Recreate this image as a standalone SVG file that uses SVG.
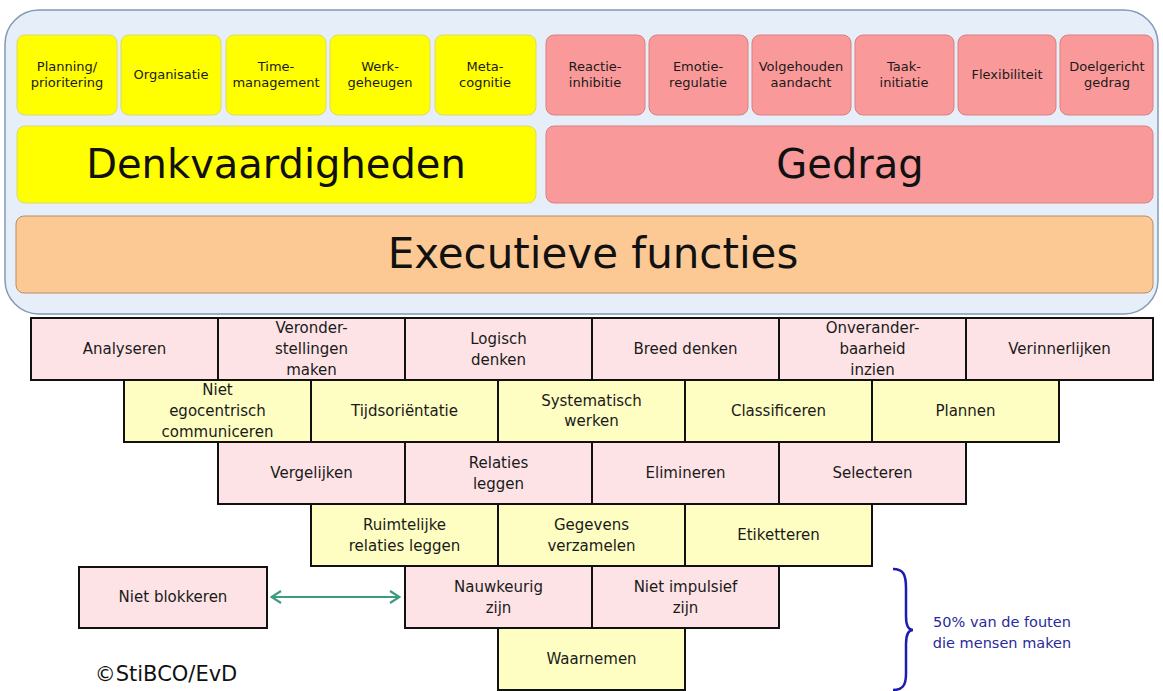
<svg xmlns="http://www.w3.org/2000/svg" width="1163" height="691" viewBox="0 0 1163 691">
<defs>
<style>
text{font-family:"DejaVu Sans","Liberation Sans",sans-serif;text-anchor:middle;dominant-baseline:central;fill:#1a1a1a}
.sy{fill:#ffff00;stroke:#dcd870;stroke-width:1}
.sp{fill:#fa9999;stroke:#d98080;stroke-width:1}
.st{font-size:13px}
.big{font-size:40px;fill:#111}
.pk{fill:#fde3e5;stroke:#111;stroke-width:2}
.yl{fill:#fefec2;stroke:#111;stroke-width:2}
.pt{font-size:15px}
</style>
<marker id="ah" viewBox="0 0 12 14" refX="11" refY="7" markerWidth="12" markerHeight="14" markerUnits="userSpaceOnUse" orient="auto-start-reverse">
<path d="M1,1 L10.5,7 L1,13" fill="none" stroke="#3f9b7f" stroke-width="2.2"/>
</marker>
</defs>
<rect width="1163" height="691" fill="#ffffff"/>
<g id="container">
<rect x="5" y="10" width="1153" height="304" rx="34" fill="#e6eef9" stroke="#8499b3" stroke-width="1.5"/>
</g>
<g id="top-yellow">
<g id="planning"><rect class="sy" x="17" y="35" width="100" height="80" rx="8"/><text class="st" x="67" y="66">Planning/</text><text class="st" x="67" y="82">prioritering</text></g>
<g id="organisatie"><rect class="sy" x="121" y="35" width="100" height="80" rx="8"/><text class="st" x="171" y="74">Organisatie</text></g>
<g id="time"><rect class="sy" x="226" y="35" width="100" height="80" rx="8"/><text class="st" x="276" y="66">Time-</text><text class="st" x="276" y="82">management</text></g>
<g id="werk"><rect class="sy" x="330" y="35" width="100" height="80" rx="8"/><text class="st" x="380" y="66">Werk-</text><text class="st" x="380" y="82">geheugen</text></g>
<g id="meta"><rect class="sy" x="435" y="35" width="101" height="80" rx="8"/><text class="st" x="485" y="66">Meta-</text><text class="st" x="485" y="82">cognitie</text></g>
</g>
<g id="top-pink">
<g id="reactie"><rect class="sp" x="546" y="35" width="99" height="80" rx="8"/><text class="st" x="595" y="66">Reactie-</text><text class="st" x="595" y="82">inhibitie</text></g>
<g id="emotie"><rect class="sp" x="649" y="35" width="99" height="80" rx="8"/><text class="st" x="698" y="66">Emotie-</text><text class="st" x="698" y="82">regulatie</text></g>
<g id="volgehouden"><rect class="sp" x="752" y="35" width="99" height="80" rx="8"/><text class="st" x="801" y="66">Volgehouden</text><text class="st" x="801" y="82">aandacht</text></g>
<g id="taak"><rect class="sp" x="855" y="35" width="99" height="80" rx="8"/><text class="st" x="904" y="66">Taak-</text><text class="st" x="904" y="82">initiatie</text></g>
<g id="flex"><rect class="sp" x="958" y="35" width="98" height="80" rx="8"/><text class="st" x="1007" y="74">Flexibiliteit</text></g>
<g id="doel"><rect class="sp" x="1060" y="35" width="93" height="80" rx="8"/><text class="st" x="1107" y="66">Doelgericht</text><text class="st" x="1107" y="82">gedrag</text></g>
</g>
<g id="denk"><rect class="sy" x="17" y="126" width="519" height="77" rx="8"/><text class="big" x="276" y="164">Denkvaardigheden</text></g>
<g id="gedrag"><rect class="sp" x="546" y="126" width="607" height="77" rx="8"/><text class="big" x="850" y="164">Gedrag</text></g>
<g id="exec"><rect x="16" y="216" width="1137" height="77" rx="8" fill="#fcc994" stroke="#b98c66" stroke-width="1"/><text class="big" x="593" y="253" style="font-size:42px">Executieve functies</text></g>

<g id="row1">
<g id="analyseren"><rect class="pk" x="31" y="318" width="187" height="62"/><text class="pt" x="124.5" y="349">Analyseren</text></g>
<g id="veronder"><rect class="pk" x="218" y="318" width="187" height="62"/><text class="pt" x="311.5" y="328">Veronder-</text><text class="pt" x="311.5" y="349">stellingen</text><text class="pt" x="311.5" y="370">maken</text></g>
<g id="logisch"><rect class="pk" x="405" y="318" width="187" height="62"/><text class="pt" x="498.5" y="339">Logisch</text><text class="pt" x="498.5" y="360">denken</text></g>
<g id="breed"><rect class="pk" x="592" y="318" width="187" height="62"/><text class="pt" x="685.5" y="349">Breed denken</text></g>
<g id="onverander"><rect class="pk" x="779" y="318" width="187" height="62"/><text class="pt" x="872.5" y="328">Onverander-</text><text class="pt" x="872.5" y="349">baarheid</text><text class="pt" x="872.5" y="370">inzien</text></g>
<g id="verinnerlijken"><rect class="pk" x="966" y="318" width="187" height="62"/><text class="pt" x="1059.5" y="349">Verinnerlijken</text></g>
</g>
<g id="row2">
<g id="egocentrisch"><rect class="yl" x="124" y="380" width="187" height="62"/><text class="pt" x="217.5" y="390">Niet</text><text class="pt" x="217.5" y="411">egocentrisch</text><text class="pt" x="217.5" y="432">communiceren</text></g>
<g id="tijd"><rect class="yl" x="311" y="380" width="187" height="62"/><text class="pt" x="404.5" y="411">Tijdsoriëntatie</text></g>
<g id="systematisch"><rect class="yl" x="498" y="380" width="187" height="62"/><text class="pt" x="591.5" y="401">Systematisch</text><text class="pt" x="591.5" y="421">werken</text></g>
<g id="classificeren"><rect class="yl" x="685" y="380" width="187" height="62"/><text class="pt" x="778.5" y="411">Classificeren</text></g>
<g id="plannen"><rect class="yl" x="872" y="380" width="187" height="62"/><text class="pt" x="965.5" y="411">Plannen</text></g>
</g>
<g id="row3">
<g id="vergelijken"><rect class="pk" x="218" y="442" width="187" height="62"/><text class="pt" x="311.5" y="473">Vergelijken</text></g>
<g id="relaties"><rect class="pk" x="405" y="442" width="187" height="62"/><text class="pt" x="498.5" y="463">Relaties</text><text class="pt" x="498.5" y="484">leggen</text></g>
<g id="elimineren"><rect class="pk" x="592" y="442" width="187" height="62"/><text class="pt" x="685.5" y="473">Elimineren</text></g>
<g id="selecteren"><rect class="pk" x="779" y="442" width="187" height="62"/><text class="pt" x="872.5" y="473">Selecteren</text></g>
</g>
<g id="row4">
<g id="ruimtelijke"><rect class="yl" x="311" y="504" width="187" height="62"/><text class="pt" x="404.5" y="525">Ruimtelijke</text><text class="pt" x="404.5" y="546">relaties leggen</text></g>
<g id="gegevens"><rect class="yl" x="498" y="504" width="187" height="62"/><text class="pt" x="591.5" y="525">Gegevens</text><text class="pt" x="591.5" y="546">verzamelen</text></g>
<g id="etiketteren"><rect class="yl" x="685" y="504" width="187" height="62"/><text class="pt" x="778.5" y="535">Etiketteren</text></g>
</g>
<g id="row5">
<g id="nauwkeurig"><rect class="pk" x="405" y="566" width="187" height="62"/><text class="pt" x="498.5" y="587">Nauwkeurig</text><text class="pt" x="498.5" y="608">zijn</text></g>
<g id="impulsief"><rect class="pk" x="592" y="566" width="187" height="62"/><text class="pt" x="685.5" y="587">Niet impulsief</text><text class="pt" x="685.5" y="608">zijn</text></g>
</g>
<g id="row6">
<g id="waarnemen"><rect class="yl" x="498" y="628" width="187" height="62"/><text class="pt" x="591.5" y="659">Waarnemen</text></g>
</g>
<g id="blokkeren"><rect class="pk" x="79" y="567" width="188" height="61"/><text class="pt" x="173" y="597">Niet blokkeren</text></g>

<g id="connectors">
<line x1="271" y1="597" x2="400" y2="597" stroke="#3f9b7f" stroke-width="2.2" marker-start="url(#ah)" marker-end="url(#ah)"/>
<path d="M893,569 C903,569 906,574 906,588 L906,616 C906,625 908,630 913,630 C908,630 906,635 906,644 L906,674 C906,686 902,690 893,690" fill="none" stroke="#1c1cb0" stroke-width="2.5"/>
</g>
<g id="annotations">
<text x="1002" y="622" style="font-size:14.5px;fill:#2a2a9c">50% van de fouten</text>
<text x="1002" y="643" style="font-size:14.5px;fill:#2a2a9c">die mensen maken</text>
<text x="166" y="674" style="font-size:21px;fill:#111">©StiBCO/EvD</text>
</g>
</svg>
